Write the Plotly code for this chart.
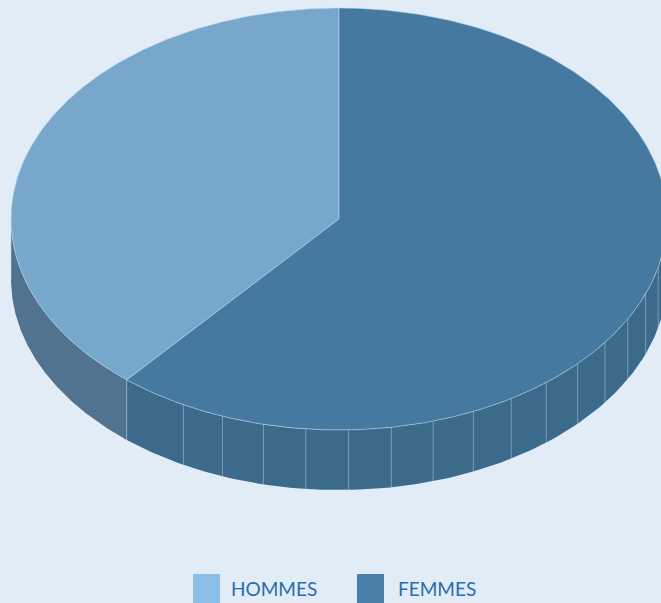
import numpy as np
import plotly.graph_objects as go

# ---- data ----
labels = ["HOMMES", "FEMMES"]
values = [38.8, 61.2]

# ---- styling / geometry ----
top_colors = ["#78a7cc", "#45799f"]
side_colors = ["#52738f", "#3c6a8b"]
legend_colors = ["#8bbde6", "#4a80aa"]
BG = "#e1ecf7"
W, H = 661, 603
CX, CY, RX, RY, DEPTH = 339, 219, 328, 211, 60
FACET_DEG = 7.5

def pt(theta_deg, dy=0.0):
    t = np.radians(theta_deg)
    return CX + RX * np.cos(t), CY - RY * np.sin(t) + dy

fig = go.Figure()

# slice angle spans (counter-clockwise from 90 deg)
total = sum(values)
spans = []
start = 90.0
for v in values:
    end = start + 360.0 * v / total
    spans.append((start, end))
    start = end

def visible_ranges(a1, a2):
    out = []
    for k in (-1, 0, 1):
        lo, hi = 180 + 360 * k, 360 + 360 * k
        s, e = max(a1, lo), min(a2, hi)
        if e > s:
            out.append((s, e))
    return out

# ---- sides ----
facet_lines_x, facet_lines_y = [], []
for i, (a1, a2) in enumerate(spans):
    for (s, e) in visible_ranges(a1, a2):
        th = np.linspace(s, e, 120)
        xt, yt = pt(th)
        xb, yb = pt(th[::-1], DEPTH)
        fig.add_trace(go.Scatter(
            x=np.concatenate([xt, xb]), y=np.concatenate([yt, yb]),
            fill="toself", fillcolor=side_colors[i], mode="lines",
            line=dict(width=0, color=side_colors[i]), hoverinfo="skip", showlegend=False))
        edges = list(np.arange(s + FACET_DEG * 1.6, e, FACET_DEG)) if i == 1 else []
        for a in edges + [s]:
            x0, y0 = pt(a)
            x1, y1 = pt(a, DEPTH)
            facet_lines_x += [x0, x1, None]
            facet_lines_y += [y0, y1, None]

fig.add_trace(go.Scatter(x=facet_lines_x, y=facet_lines_y, mode="lines",
                         line=dict(color="rgba(200,220,240,0.45)", width=1),
                         hoverinfo="skip", showlegend=False))

# ---- tops ----
for i, (a1, a2) in enumerate(spans):
    th = np.linspace(a1, a2, 300)
    xs, ys = pt(th)
    xs = np.concatenate([[CX], xs, [CX]])
    ys = np.concatenate([[CY], ys, [CY]])
    fig.add_trace(go.Scatter(
        x=xs, y=ys, fill="toself", fillcolor=top_colors[i], mode="lines",
        line=dict(width=1, color="rgba(190,215,238,0.55)"),
        name=labels[i], hovertemplate=labels[i] + ": %{text}%<extra></extra>",
        text=[values[i]] * len(xs), showlegend=False))

# ---- legend (squares + labels) ----
shapes, annotations = [], []
lx = [193, 357]
tx = [231, 398]
for i in range(2):
    shapes.append(dict(type="rect", xref="x", yref="y", x0=lx[i], x1=lx[i] + 27,
                       y0=574, y1=610, fillcolor=legend_colors[i], line=dict(width=0), layer="above"))
    annotations.append(dict(x=tx[i] - 2, y=588, xref="x", yref="y", text=labels[i], showarrow=False,
                            xanchor="left", yanchor="middle",
                            font=dict(family="Lato, sans-serif", size=19, color="#2b6cab")))

fig.update_layout(
    width=W, height=H, margin=dict(l=0, r=0, t=0, b=0),
    paper_bgcolor=BG, plot_bgcolor=BG,
    xaxis=dict(range=[0, W], visible=False, fixedrange=True),
    yaxis=dict(range=[H, 0], visible=False, fixedrange=True),
    shapes=shapes, annotations=annotations, showlegend=False,
)

fig.write_html("out.html", config={"displayModeBar": False},
               post_script="document.body.style.margin='0';document.body.style.overflow='hidden';")
